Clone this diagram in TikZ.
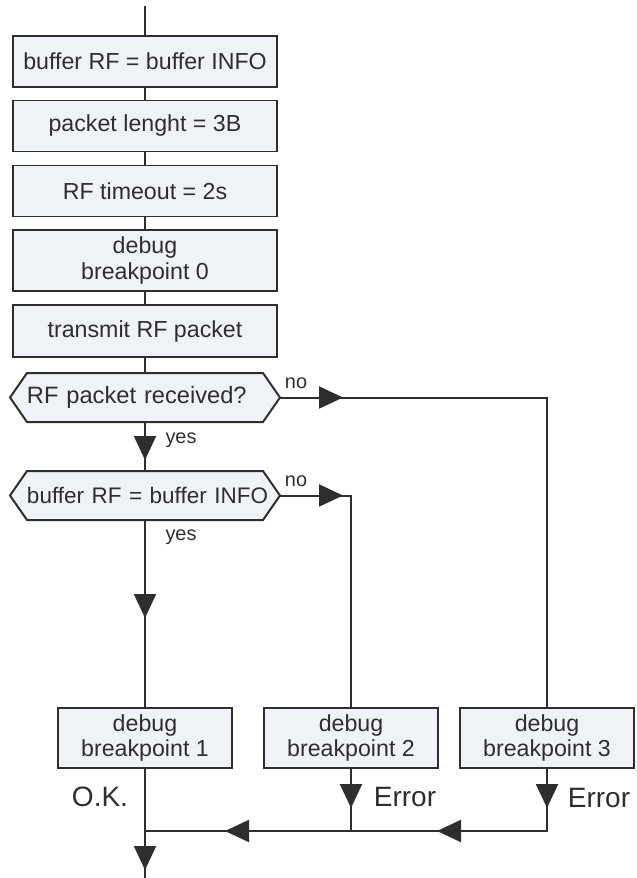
\documentclass[tikz,border=0pt]{standalone}
\usepackage{fontspec}
\setmainfont{Liberation Sans}
\usetikzlibrary{arrows.meta,decorations.markings,backgrounds}
\definecolor{boxfill}{HTML}{EFF3F7}
\definecolor{ink}{HTML}{2E2E2E}
\begin{document}
\begin{tikzpicture}
        [x=0.3mm,y=-0.3mm,
         every node/.style={text=ink,inner sep=0pt,outer sep=0pt},
         stepbox/.style={draw=ink,fill=boxfill,line width=1.7pt,align=center,minimum width=79.2mm,minimum height=15.3mm,font=\fontsize{19.8}{22}\selectfont},
         smallbox/.style={stepbox,minimum width=52.2mm,minimum height=18mm},
         decision/.style={text width=70.8mm,align=left,minimum height=14.7mm,font=\fontsize{20.2}{22}\selectfont},
         hexa/.style={draw=ink,fill=boxfill,line width=1.7pt,line join=miter},
         lbl/.style={font=\fontsize{17}{20}\selectfont},
         biglbl/.style={font=\fontsize{23.9}{26}\selectfont},
         line/.style={draw=ink,color=ink,line width=1.7pt},
         mid/.style={postaction={decorate,decoration={markings,mark=at position #1 with {\arrow{Triangle[length=7.2mm,width=6.6mm]}}}}}]
        \useasboundingbox (0,0) rectangle (636,878);
        %Main column
        \coordinate (entry) at (145,6);
        \node[stepbox]  (B1) at (145,61.5)   {buffer RF = buffer INFO};
        \node[stepbox]  (B2) at (145,126)    {packet lenght = 3B};
        \node[stepbox]  (B3) at (145,191)    {RF timeout = 2s};
        \node[stepbox,minimum height=18.3mm] (B4) at (145,260.5) {debug\\breakpoint 0};
        \node[stepbox,minimum height=15.6mm] (B5) at (145,331)   {transmit RF packet};
        %Decisions
        \node[decision] (D1) at (145,397.5)  {\mbox{RF packet received?}};
        \node[decision,font=\fontsize{19.2}{22}\selectfont] (D2) at (145,495.5)  {\mbox{buffer RF = buffer INFO}};
        \coordinate (D1l) at ([xshift=-5.1mm]D1.west);
        \coordinate (D1r) at ([xshift=5.1mm]D1.east);
        \coordinate (D2l) at ([xshift=-5.1mm]D2.west);
        \coordinate (D2r) at ([xshift=5.1mm]D2.east);
        \begin{scope}[on background layer]
          \draw[hexa] (D1.north west) -- (D1.north east) -- (D1r) -- (D1.south east) -- (D1.south west) -- (D1l) -- cycle;
          \draw[hexa] (D2.north west) -- (D2.north east) -- (D2r) -- (D2.south east) -- (D2.south west) -- (D2l) -- cycle;
        \end{scope}
        %Breakpoints
        \node[smallbox] (BP1) at (145,738)   {debug\\breakpoint 1};
        \node[smallbox] (BP2) at (351,738)   {debug\\breakpoint 2};
        \node[smallbox] (BP3) at (547,738)   {debug\\breakpoint 3};
        \coordinate (C3) at (547,831);
        \coordinate (J2) at (351,831);
        \coordinate (J1) at (145,831);
        \coordinate (exit) at (145,878);

        \draw[line] (entry) -- (B1);
        \draw[line] (B1) -- (B2);
        \draw[line] (B2) -- (B3);
        \draw[line] (B3) -- (B4);
        \draw[line] (B4) -- (B5);
        \draw[line] (B5) -- (D1);
        \draw[line,mid=11.4mm] (D1) -- (D2);
        \draw[line,mid=18.9mm] (D1r) -| (BP3.north);
        \draw[line,mid=18.9mm] (D2r) -| (BP2.north);
        \draw[line,mid=29.4mm] (D2) -- (BP1);
        \draw[line,mid=12mm,mid=56.7mm] (BP2) -- (J2) -- (J1);
        \draw[line,mid=12mm,mid=51.9mm] (BP3) -- (C3) -- (J2);
        \draw[line,mid=30.6mm] (BP1) -- (exit);

        %Labels
        \node[lbl]    (no1)  at (296,383) {no};
        \node[lbl]    (no2)  at (296,481) {no};
        \node[lbl]    (yes1) at (181,440) {yes};
        \node[lbl]    (yes2) at (181,537) {yes};
        \node[biglbl] (ok)   at (100,797) {O.K.};
        \node[biglbl] (err2) at (405,797) {Error};
        \node[biglbl] (err3) at (599,798) {Error};
\end{tikzpicture}
\end{document}
